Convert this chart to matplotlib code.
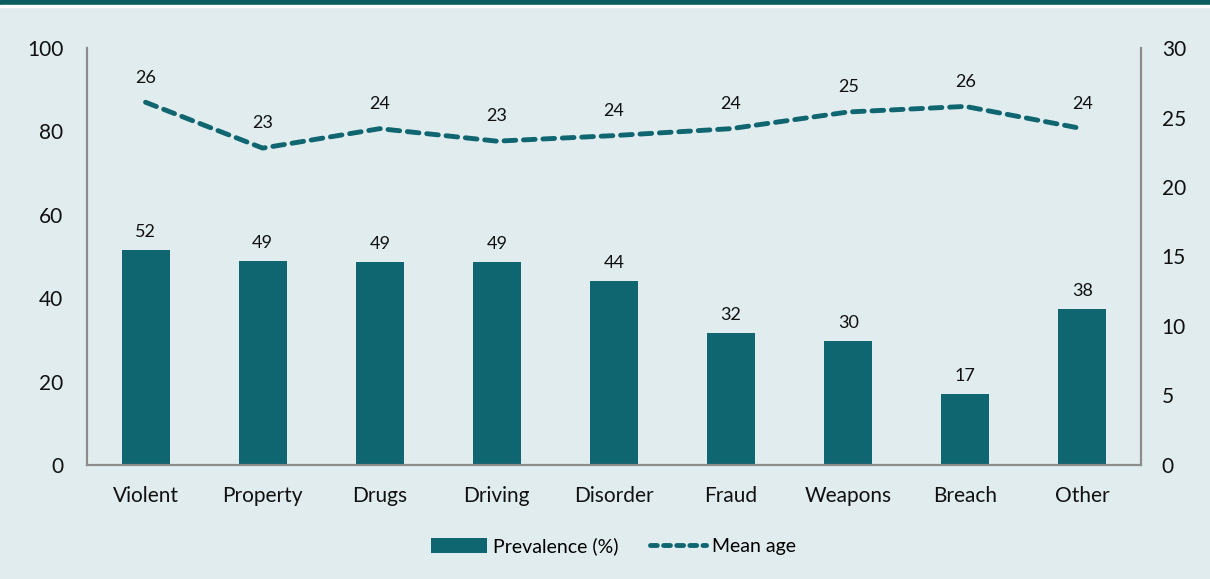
import matplotlib.pyplot as plt
from matplotlib.patches import Rectangle, Patch
from matplotlib.lines import Line2D

categories = ["Violent", "Property", "Drugs", "Driving", "Disorder", "Fraud", "Weapons", "Breach", "Other"]
prevalence = [51.6, 48.8, 48.7, 48.6, 44.1, 31.6, 29.8, 16.9, 37.5]
mean_age = [26.1, 22.8, 24.2, 23.3, 23.7, 24.2, 25.4, 25.8, 24.2]

teal = "#0f6570"
bg = "#e0eced"
plt.rcParams['font.family'] = ['Lato', 'DejaVu Sans']

fig = plt.figure(figsize=(12.1, 5.79), dpi=100, facecolor=bg)
ax = fig.add_axes([0.0719, 0.197, 0.871, 0.72])
ax.set_facecolor(bg)
ax2 = ax.twinx()

x = range(len(categories))
ax.bar(x, prevalence, width=0.41, color=teal, zorder=2)
for xi, v in zip(x, prevalence):
    ax.text(xi, v + 2.4, f"{v:.0f}", ha='center', va='bottom', fontsize=13, color='#111111')

ax2.plot(x, mean_age, color=teal, lw=3.5, ls=(0, (2.4, 1.6)), dash_capstyle='round')
for xi, v in zip(x, mean_age):
    ax2.text(xi, v + 1.2, f"{v:.0f}", ha='center', va='bottom', fontsize=13, color='#111111')

ax.set_xlim(-0.5, len(categories) - 0.5)
ax.set_ylim(0, 100)
ax2.set_ylim(0, 30)
ax.set_yticks(range(0, 101, 20))
ax2.set_yticks(range(0, 31, 5))
ax.set_xticks(list(x))
ax.set_xticklabels(categories)

for a in (ax, ax2):
    a.spines['top'].set_visible(False)
    for s in ('left', 'right', 'bottom'):
        a.spines[s].set_color('#8c8c8c')
        a.spines[s].set_linewidth(1.5)
    a.tick_params(length=0, labelsize=15, colors='#111111')
ax.tick_params(axis='y', pad=17)
ax2.tick_params(axis='y', pad=15)
ax.tick_params(axis='x', pad=15)

handles = [Patch(facecolor=teal), Line2D([0], [0], color=teal, lw=3.5, ls=(0, (1.4, 1.3)), dash_capstyle='round')]
fig.legend(handles, ["Prevalence (%)", "Mean age"], loc='center', bbox_to_anchor=(0.507, 0.057),
           ncol=2, frameon=False, fontsize=14, handlelength=2.9, handleheight=0.8,
           handletextpad=0.3, columnspacing=1.6)

fig.patches.append(Rectangle((0, 0.992), 1, 0.008, transform=fig.transFigure, color='#0b5e5e', zorder=5))
fig.patches.append(Rectangle((0, 0.988), 1, 0.004, transform=fig.transFigure, color='white', zorder=5))

fig.savefig("out.png", dpi=100, facecolor=bg)
